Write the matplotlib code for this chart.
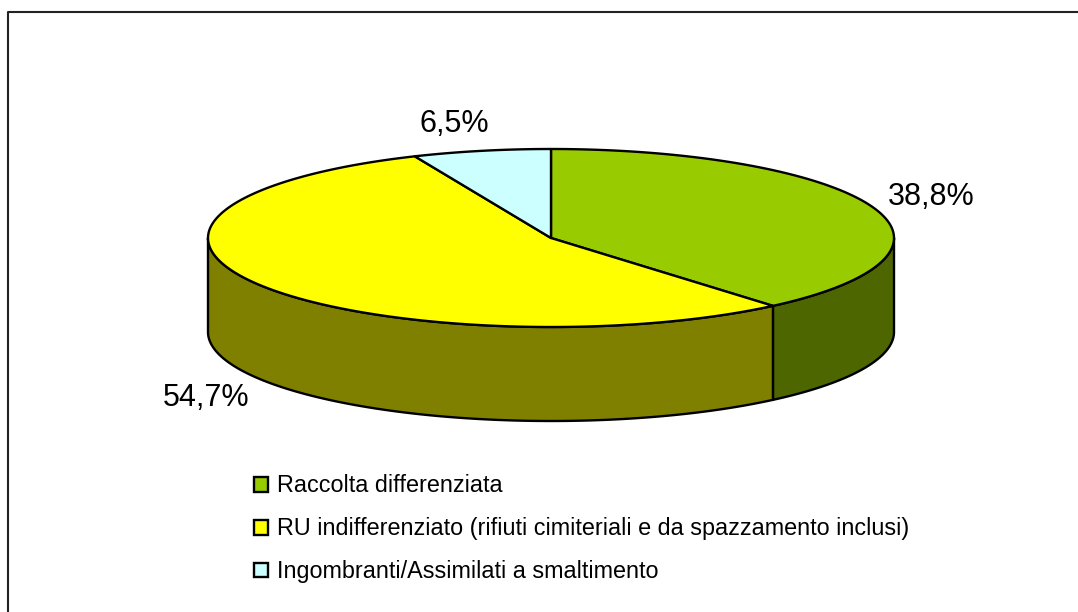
import matplotlib
matplotlib.use('Agg')
import matplotlib.pyplot as plt
from matplotlib.patches import Patch, Polygon
import numpy as np

categories = ['Raccolta differenziata',
              'RU indifferenziato (rifiuti cimiteriali e da spazzamento inclusi)',
              'Ingombranti/Assimilati a smaltimento']
values = [38.8, 54.7, 6.5]
value_labels = ['38,8%', '54,7%', '6,5%']
top_colors = ['#99CC00', '#FFFF00', '#CCFFFF']
side_colors = ['#4D6600', '#808000']

cx, cy = 551, 238
rx, ry = 343, 89
depth = 94

fig = plt.figure(figsize=(10.78, 6.12), dpi=100)
ax = fig.add_axes([0, 0, 1, 1])
ax.set_xlim(0, 1078)
ax.set_ylim(612, 0)
ax.axis('off')

# chart frame, cut off at the right and bottom of the picture
ax.plot([8, 8, 1078], [612, 12, 12], color='#222222', lw=1.5)


def rim(a0, a1):
    t = np.radians(np.linspace(a0, a1, 200))
    return cx + rx * np.sin(t), cy - ry * np.cos(t)


# angles run clockwise from the top of the ellipse
edges = np.concatenate([[0], np.cumsum(values)]) * 3.6

# side walls, only the front half is visible
for i in range(2):
    a0 = max(edges[i], 90)
    a1 = min(edges[i + 1], 270)
    x, y = rim(a0, a1)
    pts = np.column_stack([np.r_[x, x[::-1]], np.r_[y, y[::-1] + depth]])
    ax.add_patch(Polygon(pts, closed=True, fc=side_colors[i], ec='black', lw=1.7, joinstyle='round'))

# top faces
for i in range(3):
    x, y = rim(edges[i], edges[i + 1])
    pts = np.column_stack([np.r_[cx, x], np.r_[cy, y]])
    ax.add_patch(Polygon(pts, closed=True, fc=top_colors[i], ec='black', lw=1.7, joinstyle='round'))

ax.text(931, 197, value_labels[0], fontsize=22, family='Liberation Sans', ha='center', va='center')
ax.text(206, 398, value_labels[1], fontsize=22, family='Liberation Sans', ha='center', va='center')
ax.text(454, 124, value_labels[2], fontsize=22, family='Liberation Sans', ha='center', va='center')

handles = [Patch(fc=c, ec='black', lw=1.7) for c in top_colors]
ax.legend(handles, categories, loc='upper left', bbox_to_anchor=(250 / 1078, 1 - 471 / 612),
          frameon=False, prop={'family': 'Liberation Sans', 'size': 16.8},
          handlelength=0.6, handleheight=0.6, handletextpad=0.4, labelspacing=0.85,
          borderpad=0.15, borderaxespad=0)

fig.savefig('out.png', dpi=100)
